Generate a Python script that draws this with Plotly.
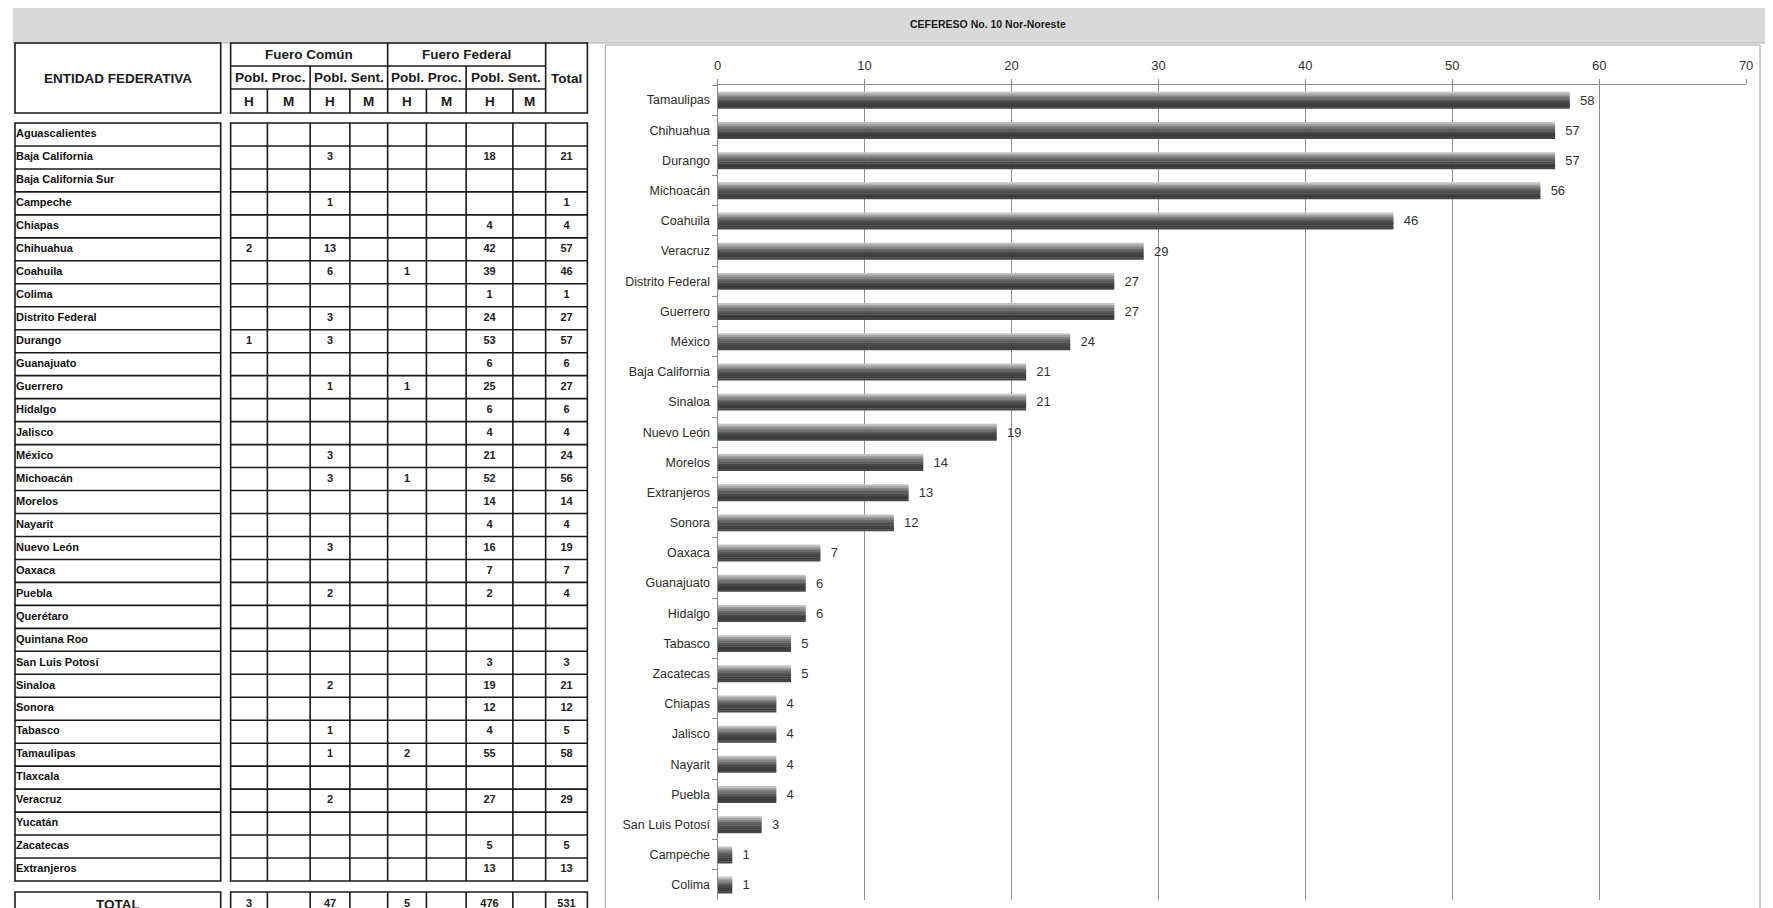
import plotly.graph_objects as go

N = None

# --- datos de la tabla (CEFERESO No. 10) ---
ENTIDADES = ["Aguascalientes", "Baja California", "Baja California Sur", "Campeche", "Chiapas",
             "Chihuahua", "Coahuila", "Colima", "Distrito Federal", "Durango", "Guanajuato",
             "Guerrero", "Hidalgo", "Jalisco", "México", "Michoacán", "Morelos", "Nayarit",
             "Nuevo León", "Oaxaca", "Puebla", "Querétaro", "Quintana Roo", "San Luis Potosí",
             "Sinaloa", "Sonora", "Tabasco", "Tamaulipas", "Tlaxcala", "Veracruz", "Yucatán",
             "Zacatecas", "Extranjeros"]

FC_PROC_H = [N, N, N, N, N, 2, N, N, N, 1, N, N, N, N, N, N, N, N, N, N, N, N, N, N, N, N, N, N, N, N, N, N, N]
FC_PROC_M = [N] * 33
FC_SENT_H = [N, 3, N, 1, N, 13, 6, N, 3, 3, N, 1, N, N, 3, 3, N, N, 3, N, 2, N, N, N, 2, N, 1, 1, N, 2, N, N, N]
FC_SENT_M = [N] * 33
FF_PROC_H = [N, N, N, N, N, N, 1, N, N, N, N, 1, N, N, N, 1, N, N, N, N, N, N, N, N, N, N, N, 2, N, N, N, N, N]
FF_PROC_M = [N] * 33
FF_SENT_H = [N, 18, N, N, 4, 42, 39, 1, 24, 53, 6, 25, 6, 4, 21, 52, 14, 4, 16, 7, 2, N, N, 3, 19, 12, 4, 55, N, 27, N, 5, 13]
FF_SENT_M = [N] * 33
TOTAL = [N, 21, N, 1, 4, 57, 46, 1, 27, 57, 6, 27, 6, 4, 24, 56, 14, 4, 19, 7, 4, N, N, 3, 21, 12, 5, 58, N, 29, N, 5, 13]

FILA_TOTAL = [3, N, 47, N, 5, N, 476, N, 531]

FUEROS = ["Fuero Común", "Fuero Federal"]
POBLACION = ["Pobl. Proc.", "Pobl. Sent.", "Pobl. Proc.", "Pobl. Sent."]
SEXO = ["H", "M", "H", "M", "H", "M", "H", "M"]

# --- datos de la gráfica ---
CATEGORIAS = ["Tamaulipas", "Chihuahua", "Durango", "Michoacán", "Coahuila", "Veracruz",
              "Distrito Federal", "Guerrero", "México", "Baja California", "Sinaloa",
              "Nuevo León", "Morelos", "Extranjeros", "Sonora", "Oaxaca", "Guanajuato",
              "Hidalgo", "Tabasco", "Zacatecas", "Chiapas", "Jalisco", "Nayarit", "Puebla",
              "San Luis Potosí", "Campeche", "Colima"]
INTERNOS = [58, 57, 57, 56, 46, 29, 27, 27, 24, 21, 21, 19, 14, 13, 12, 7, 6, 6, 5, 5,
            4, 4, 4, 4, 3, 1, 1]

TITULO = "CEFERESO No. 10 Nor-Noreste"

# --- geometría (pixeles de pantalla; la página deja 8 px de margen) ---
SW, SH = 1773, 908
OFF = 8
W, H = SW - OFF, SH - OFF
FONT = "Liberation Sans, Arial, sans-serif"
NAME_X = (11, 218)
COL_EDGES = [228, 265, 308, 348, 386, 425, 465, 512, 545, 587]
HEAD_Y = [43, 66, 89, 113]
BODY_TOP, ROW_H = 123, 22.97
TOT_Y = (892, 916)
LINE = dict(color="#1a1a1a", width=1.6)


def px(x):
    return (x - OFF) / W


def py(y):
    return 1 - (y - OFF) / H


shapes = []


def seg(x0, y0, x1, y1):
    shapes.append(dict(type="line", xref="x2", yref="y2", x0=x0, y0=y0, x1=x1, y1=y1,
                       line=LINE, layer="above"))


def box(x0, y0, x1, y1):
    shapes.append(dict(type="rect", xref="x2", yref="y2", x0=x0, y0=y0, x1=x1, y1=y1,
                       line=LINE, fillcolor="rgba(0,0,0,0)", layer="above"))


def mid(a, b):
    return (a + b) / 2


# banda gris y marco de la gráfica (en papel, debajo de todo)
shapes.append(dict(type="rect", xref="paper", yref="paper", x0=px(9), x1=1,
                   y0=py(43), y1=1, fillcolor="#d9d9d9",
                   line=dict(width=0), layer="below"))
shapes.append(dict(type="line", xref="paper", yref="paper", x0=px(9), x1=1,
                   y0=py(43), y1=py(43), line=dict(color="#b0b0b0", width=1),
                   layer="below"))
shapes.append(dict(type="rect", xref="paper", yref="paper", x0=px(605), x1=px(1767),
                   y0=-0.02, y1=py(45), fillcolor="white",
                   line=dict(color="#9d9d9d", width=1), layer="below"))

# encabezado de la tabla
box(NAME_X[0], HEAD_Y[0], NAME_X[1], HEAD_Y[3])
box(COL_EDGES[0], HEAD_Y[0], COL_EDGES[-1], HEAD_Y[3])
seg(COL_EDGES[0], HEAD_Y[1], COL_EDGES[-2], HEAD_Y[1])
seg(COL_EDGES[0], HEAD_Y[2], COL_EDGES[-2], HEAD_Y[2])
seg(COL_EDGES[4], HEAD_Y[0], COL_EDGES[4], HEAD_Y[3])
seg(COL_EDGES[8], HEAD_Y[0], COL_EDGES[8], HEAD_Y[3])
for j in (2, 6):
    seg(COL_EDGES[j], HEAD_Y[1], COL_EDGES[j], HEAD_Y[3])
for j in (1, 3, 5, 7):
    seg(COL_EDGES[j], HEAD_Y[2], COL_EDGES[j], HEAD_Y[3])

# cuerpo
n = len(ENTIDADES)
body_bot = BODY_TOP + n * ROW_H
box(NAME_X[0], BODY_TOP, NAME_X[1], body_bot)
box(COL_EDGES[0], BODY_TOP, COL_EDGES[-1], body_bot)
for i in range(1, n):
    y = BODY_TOP + i * ROW_H
    seg(NAME_X[0], y, NAME_X[1], y)
    seg(COL_EDGES[0], y, COL_EDGES[-1], y)
for x in COL_EDGES[1:-1]:
    seg(x, BODY_TOP, x, body_bot)

# fila total
box(NAME_X[0], TOT_Y[0], NAME_X[1], TOT_Y[1])
box(COL_EDGES[0], TOT_Y[0], COL_EDGES[-1], TOT_Y[1])
for x in COL_EDGES[1:-1]:
    seg(x, TOT_Y[0], x, TOT_Y[1])

# textos del encabezado
annotations = []


def label(x, y, text, size, color="#1a1a1a"):
    annotations.append(dict(xref="x2", yref="y2", x=x, y=y, text=text, showarrow=False,
                            xanchor="center", yanchor="middle",
                            font=dict(family=FONT, size=size, color=color, weight="bold")))


label(mid(*NAME_X), mid(HEAD_Y[0], HEAD_Y[3]), "ENTIDAD FEDERATIVA", 13.5)
label(mid(COL_EDGES[0], COL_EDGES[4]), mid(HEAD_Y[0], HEAD_Y[1]), FUEROS[0], 13.5)
label(mid(COL_EDGES[4], COL_EDGES[8]), mid(HEAD_Y[0], HEAD_Y[1]), FUEROS[1], 13.5)
label(mid(COL_EDGES[8], COL_EDGES[9]), mid(HEAD_Y[0], HEAD_Y[3]), "Total", 13.5)
for k, t in enumerate(POBLACION):
    label(mid(COL_EDGES[2 * k], COL_EDGES[2 * k + 2]), mid(HEAD_Y[1], HEAD_Y[2]), t, 13.5)
for k, t in enumerate(SEXO):
    label(mid(COL_EDGES[k], COL_EDGES[k + 1]), mid(HEAD_Y[2], HEAD_Y[3]), t, 13.5)
label(mid(*NAME_X), mid(*TOT_Y), "TOTAL", 13.5)

annotations.append(dict(xref="paper", yref="paper", x=px(990), y=py(24),
                        text=TITULO, showarrow=False, xanchor="center", yanchor="middle",
                        font=dict(family=FONT, size=10.5, color="#1a1a1a", weight="bold")))

fig = go.Figure()

# nombres de entidades
row_y = [BODY_TOP + (i + 0.5) * ROW_H for i in range(n)]
fig.add_trace(go.Scatter(
    x=[NAME_X[0] + 1] * n, y=row_y, text=ENTIDADES, mode="text",
    textposition="middle right", xaxis="x2", yaxis="y2", hoverinfo="skip",
    textfont=dict(family=FONT, size=11, color="#111", weight="bold")
))

# valores de la tabla
columnas = [FC_PROC_H, FC_PROC_M, FC_SENT_H, FC_SENT_M, FF_PROC_H, FF_PROC_M,
            FF_SENT_H, FF_SENT_M, TOTAL]
tx, ty, tt = [], [], []
for j, col in enumerate(columnas):
    xc = mid(COL_EDGES[j], COL_EDGES[j + 1])
    for i, v in enumerate(col):
        if v is not None:
            tx.append(xc)
            ty.append(row_y[i])
            tt.append(str(v))
for j, v in enumerate(FILA_TOTAL):
    if v is not None:
        tx.append(mid(COL_EDGES[j], COL_EDGES[j + 1]))
        ty.append(mid(*TOT_Y))
        tt.append(str(v))
fig.add_trace(go.Scatter(
    x=tx, y=ty, text=tt, mode="text", textposition="middle center",
    xaxis="x2", yaxis="y2", hoverinfo="skip",
    textfont=dict(family=FONT, size=11, color="#222", weight="bold")
))

# barras con efecto cilíndrico: franjas superpuestas
BAR_W = 0.55
SOMBRAS = ["#c4c4c4", "#a2a2a2", "#858585", "#6c6c6c", "#595959", "#4a4a4a",
           "#404040", "#3a3a3a", "#474747"]
fig.add_trace(go.Bar(
    x=INTERNOS, y=CATEGORIAS, orientation="h", width=BAR_W,
    marker=dict(color="rgba(0,0,0,0)", line=dict(width=0)),
    texttemplate="\u00a0\u00a0%{x}", textposition="outside", hoverinfo="skip",
    textfont=dict(family=FONT, size=13, color="#333")
))
k_n = len(SOMBRAS)
for k, c in enumerate(SOMBRAS):
    fig.add_trace(go.Bar(
        x=INTERNOS, y=CATEGORIAS, orientation="h",
        width=BAR_W / k_n * 1.2, offset=-BAR_W / 2 + k * BAR_W / k_n,
        marker=dict(color=c, line=dict(width=0)), hoverinfo="skip"
    ))

fig.update_layout(
    width=W, height=H,
    margin=dict(l=0, r=0, t=0, b=0),
    paper_bgcolor="white",
    plot_bgcolor="rgba(0,0,0,0)",
    showlegend=False,
    barmode="overlay",
    font=dict(family=FONT, color="#333"),
    shapes=shapes,
    annotations=annotations,
    xaxis=dict(
        domain=[px(718), px(1753)], range=[0, 70], dtick=10, side="top",
        showline=True, linecolor="#8a8a8a", linewidth=1,
        showgrid=True, gridcolor="#8f8f8f", gridwidth=1, zeroline=False,
        ticks="outside", ticklen=5, tickcolor="#8a8a8a",
        tickfont=dict(size=13, color="#333"), ticklabelstandoff=4
    ),
    yaxis=dict(
        domain=[py(900), py(85)], type="category",
        categoryorder="array", categoryarray=CATEGORIAS, autorange="reversed",
        showline=True, linecolor="#8a8a8a", linewidth=1, showgrid=False,
        ticks="outside", tickson="boundaries", ticklen=5, tickcolor="#8a8a8a",
        tickfont=dict(size=12.5, color="#2b2b2b"), ticklabelstandoff=4
    ),
    xaxis2=dict(domain=[0, 1], anchor="y2", range=[OFF, SW], visible=False, fixedrange=True),
    yaxis2=dict(domain=[0, 1], anchor="x2", range=[SH, OFF], visible=False, fixedrange=True),
)

fig.write_html("out.html")
